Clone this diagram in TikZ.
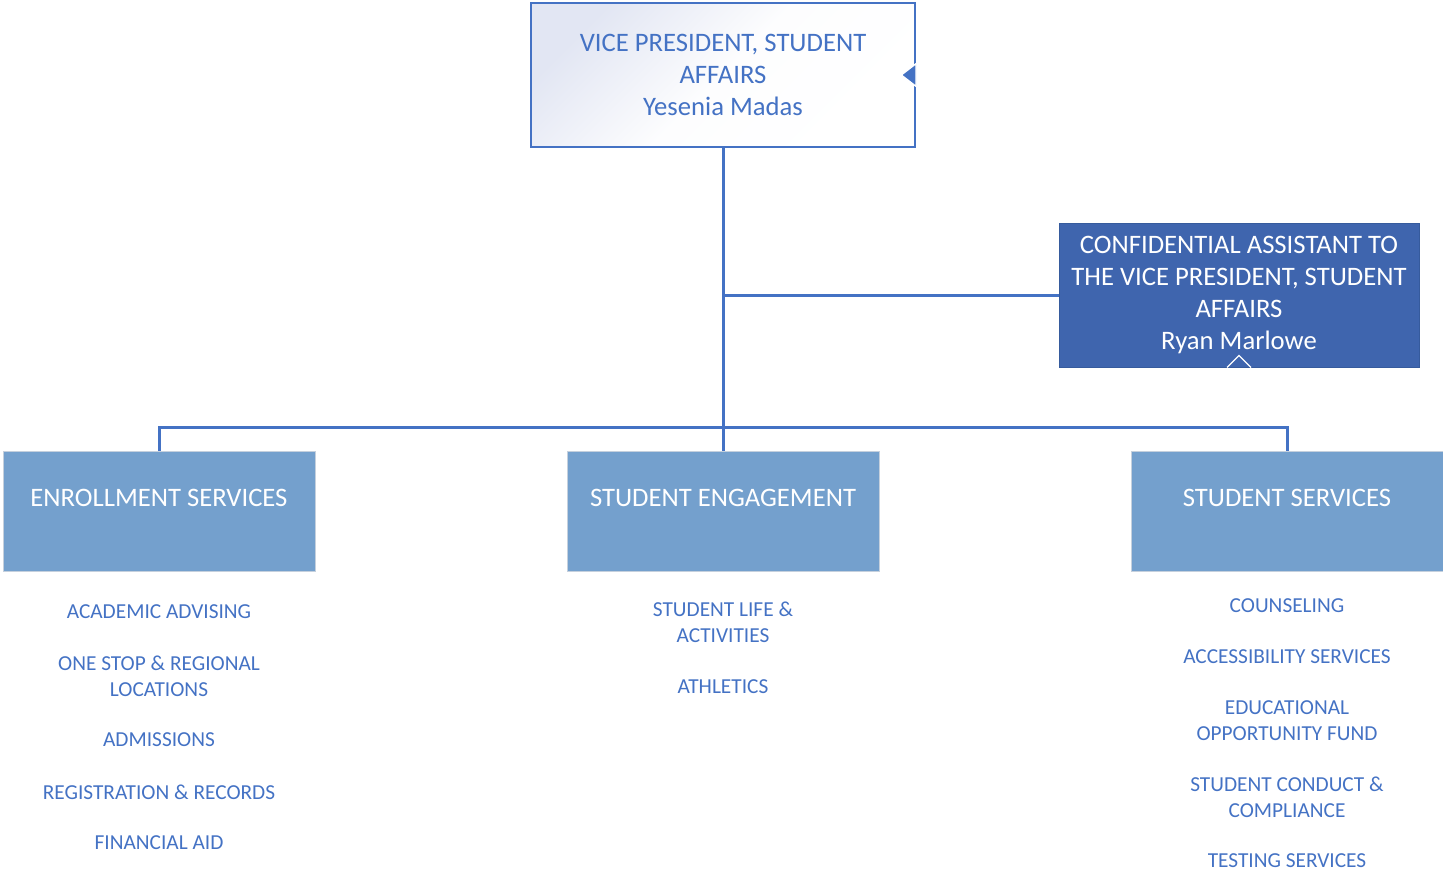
\documentclass[tikz,border=0pt]{standalone}
\usepackage{fontspec}
\setmainfont{Carlito}
\definecolor{orgblue}{HTML}{4472C4}
\definecolor{deptfill}{HTML}{74A0CD}
\definecolor{deptedge}{HTML}{C5D0DD}
\definecolor{asstfill}{HTML}{3F65AE}
\definecolor{vptint}{HTML}{E2E6F3}
\begin{document}
\begin{tikzpicture}[x=0.75pt,y=-0.75pt,
    vpbox/.style={draw=orgblue,line width=1.5pt,top color=vptint,bottom color=white,
        middle color=white!93!vptint,shading angle=45,
        minimum width=288pt,minimum height=108pt,align=center,text=orgblue,
        font=\fontsize{20}{24}\selectfont},
    asstbox/.style={draw=orgblue!80!black,line width=0.75pt,fill=asstfill,
        minimum width=270pt,minimum height=108pt,align=center,text=white,
        font=\fontsize{20}{24}\selectfont},
    deptbox/.style={draw=deptedge,line width=0.75pt,fill=deptfill,
        minimum width=234pt,minimum height=90pt},
    depttext/.style={text=white,font=\fontsize{20}{24}\selectfont},
    unit/.style={align=center,text=orgblue,font=\fontsize{16}{19.5}\selectfont},
    link/.style={draw=orgblue,line width=2.25pt}]
\useasboundingbox (0,0) rectangle (1443,871);
% head and assistant
\node[vpbox] (vp) at (723,75) {VICE PRESIDENT, STUDENT\\AFFAIRS\\Yesenia Madas};
\node[asstbox] (ca) at (1239,295) {CONFIDENTIAL ASSISTANT TO\\THE VICE PRESIDENT, STUDENT\\AFFAIRS\\Ryan Marlowe};
\filldraw[fill=orgblue,draw=white,line width=1pt] ([xshift=-11pt]vp.east) -- ([yshift=8.5pt]vp.east) -- ([yshift=-8.5pt]vp.east) -- cycle;
\draw[white,line width=1pt] ([xshift=-9pt]ca.south) -- ([yshift=9pt]ca.south) -- ([xshift=9pt]ca.south);
% departments
\node[deptbox] (es) at (159,511) {};
\node[deptbox] (se) at (723,511) {};
\node[deptbox] (ss) at (1287,511) {};
\node[depttext] (est) at (159,498) {ENROLLMENT SERVICES};
\node[depttext] (set) at (723,498) {STUDENT ENGAGEMENT};
\node[depttext] (sst) at (1287,498) {STUDENT SERVICES};
\coordinate (bus) at (723,427);
\draw[link] (vp.south) -- (se.north);
\draw[link] (ca.west) -- (ca.west -| vp.south);
\draw[link] (es.north) -- (es.north |- bus) -- (ss.north |- bus) -- (ss.north);
% units under enrollment services
\node[unit] (es1) at (159,612) {ACADEMIC ADVISING};
\node[unit] (es2) at (159,676.5) {ONE STOP \& REGIONAL\\LOCATIONS};
\node[unit] (es3) at (159,740) {ADMISSIONS};
\node[unit] (es4) at (159,792) {REGISTRATION \& RECORDS};
\node[unit] (es5) at (159,843) {FINANCIAL AID};
% units under student engagement
\node[unit] (se1) at (723,622.5) {STUDENT LIFE \&\\ACTIVITIES};
\node[unit] (se2) at (723,687) {ATHLETICS};
% units under student services
\node[unit] (ss1) at (1287,606) {COUNSELING};
\node[unit] (ss2) at (1287,657) {ACCESSIBILITY SERVICES};
\node[unit] (ss3) at (1287,720.5) {EDUCATIONAL\\OPPORTUNITY FUND};
\node[unit] (ss4) at (1287,797.5) {STUDENT CONDUCT \&\\COMPLIANCE};
\node[unit] (ss5) at (1287,861) {TESTING SERVICES};
\end{tikzpicture}
\end{document}
